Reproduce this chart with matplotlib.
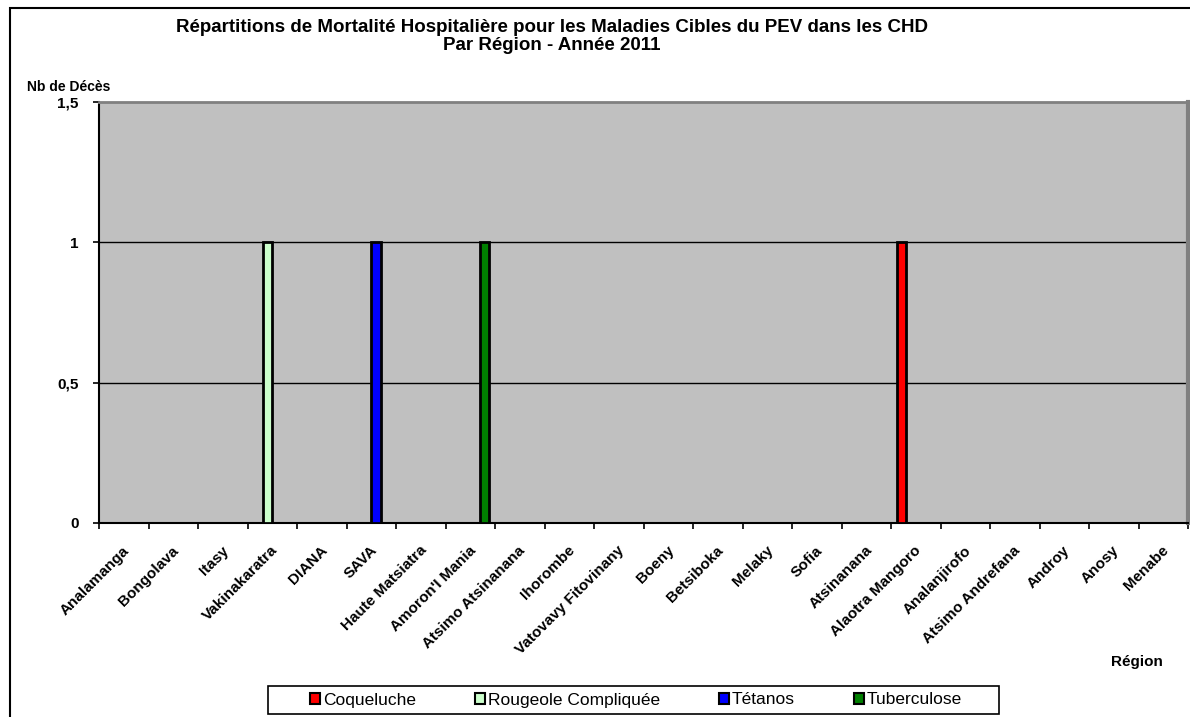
import numpy as np
import matplotlib.pyplot as plt
from matplotlib.patches import Rectangle

plt.rcParams['font.family'] = ['Liberation Sans', 'DejaVu Sans']

regions = ["Analamanga", "Bongolava", "Itasy", "Vakinakaratra", "DIANA", "SAVA",
           "Haute Matsiatra", "Amoron'I Mania", "Atsimo Atsinanana", "Ihorombe",
           "Vatovavy Fitovinany", "Boeny", "Betsiboka", "Melaky", "Sofia",
           "Atsinanana", "Alaotra Mangoro", "Analanjirofo", "Atsimo Andrefana",
           "Androy", "Anosy", "Menabe"]

coqueluche = [0, 0, 0, 0, 0, 0, 0, 0, 0, 0, 0, 0, 0, 0, 0, 0, 1, 0, 0, 0, 0, 0]
rougeole = [0, 0, 0, 1, 0, 0, 0, 0, 0, 0, 0, 0, 0, 0, 0, 0, 0, 0, 0, 0, 0, 0]
tetanos = [0, 0, 0, 0, 0, 1, 0, 0, 0, 0, 0, 0, 0, 0, 0, 0, 0, 0, 0, 0, 0, 0]
tuberculose = [0, 0, 0, 0, 0, 0, 0, 1, 0, 0, 0, 0, 0, 0, 0, 0, 0, 0, 0, 0, 0, 0]

series = [("Coqueluche", coqueluche, "#FF0000"),
          ("Rougeole Compliquée", rougeole, "#CCFFCC"),
          ("Tétanos", tetanos, "#0000FF"),
          ("Tuberculose", tuberculose, "#008000")]

yticks = [0, 0.5, 1, 1.5]
ytick_labels = ["0", "0,5", "1", "1,5"]

W, H = 1190, 717
fig = plt.figure(figsize=(W / 100, H / 100), dpi=100)
ax = fig.add_axes([99 / W, 1 - 523 / H, 1089 / W, 421 / H])
ax.set_facecolor("#C0C0C0")

x = np.arange(len(regions))
w = 0.19
for i, (name, vals, col) in enumerate(series):
    v = np.array(vals, dtype=float)
    # zero values are not drawn as bars
    h = np.where(v > 0, v, np.nan)
    ax.bar(x + (i - 1.5) * w, h, width=w, color=col, edgecolor="black",
           linewidth=2, label=name, zorder=3)

ax.set_xlim(-0.5, len(regions) - 0.5)
ax.set_ylim(0, 1.5)
ax.set_yticks(yticks)
ax.set_yticklabels(ytick_labels, fontsize=11, fontweight="bold")
for y in [0.5, 1]:
    ax.axhline(y, color="black", linewidth=1, zorder=1)

ax.set_xticks(np.arange(len(regions) + 1) - 0.5)
ax.set_xticklabels([])
ax.tick_params(axis="x", direction="out", length=4, width=1.2, color="black")
ax.tick_params(axis="y", direction="out", length=4, width=1.2, color="black", pad=10.5)

for xi, name in zip(x, regions):
    ax.text(xi + 0.07, -0.09, name, rotation=45, rotation_mode="anchor",
            ha="right", va="center", fontsize=11, fontweight="bold",
            transform=ax.transData, clip_on=False)

ax.spines["left"].set_color("black")
ax.spines["left"].set_linewidth(1.5)
ax.spines["bottom"].set_color("black")
ax.spines["bottom"].set_linewidth(1.5)
ax.spines["top"].set_color("#808080")
ax.spines["top"].set_linewidth(2)
ax.spines["right"].set_color("#808080")
ax.spines["right"].set_linewidth(3)

fig.text(552 / W, 1 - 28 / H, "Répartitions de Mortalité Hospitalière pour les Maladies Cibles du PEV dans les CHD",
         ha="center", va="center", fontsize=13.5, fontweight="bold")
fig.text(552 / W, 1 - 46 / H, "Par Région - Année 2011",
         ha="center", va="center", fontsize=13.5, fontweight="bold")
fig.text(69 / W, 1 - 87 / H, "Nb de Décès", ha="center", va="center",
         fontsize=10, fontweight="bold")
fig.text(1137 / W, 1 - 662 / H, "Région", ha="center", va="center",
         fontsize=11, fontweight="bold")

leg = fig.legend(loc="center", bbox_to_anchor=(636 / W, 1 - 700 / H), ncol=4,
                 fontsize=12.5, frameon=False,
                 handlelength=0.6, handleheight=0.6, handletextpad=0.15,
                 columnspacing=3.4, borderpad=0, borderaxespad=0)
for p in leg.get_patches():
    p.set_linewidth(1.5)

# legend frame
fig.patches.append(Rectangle((268 / W, 1 - 714 / H), 731 / W, 28 / H,
                             transform=fig.transFigure, fill=False,
                             edgecolor="black", linewidth=1.2))

# outer chart border
fig.patches.append(Rectangle((10 / W, -0.05), 1.2, 1 - 8 / H + 0.05,
                             transform=fig.transFigure, fill=False,
                             edgecolor="black", linewidth=1.5))

fig.savefig("out.png", dpi=100)
